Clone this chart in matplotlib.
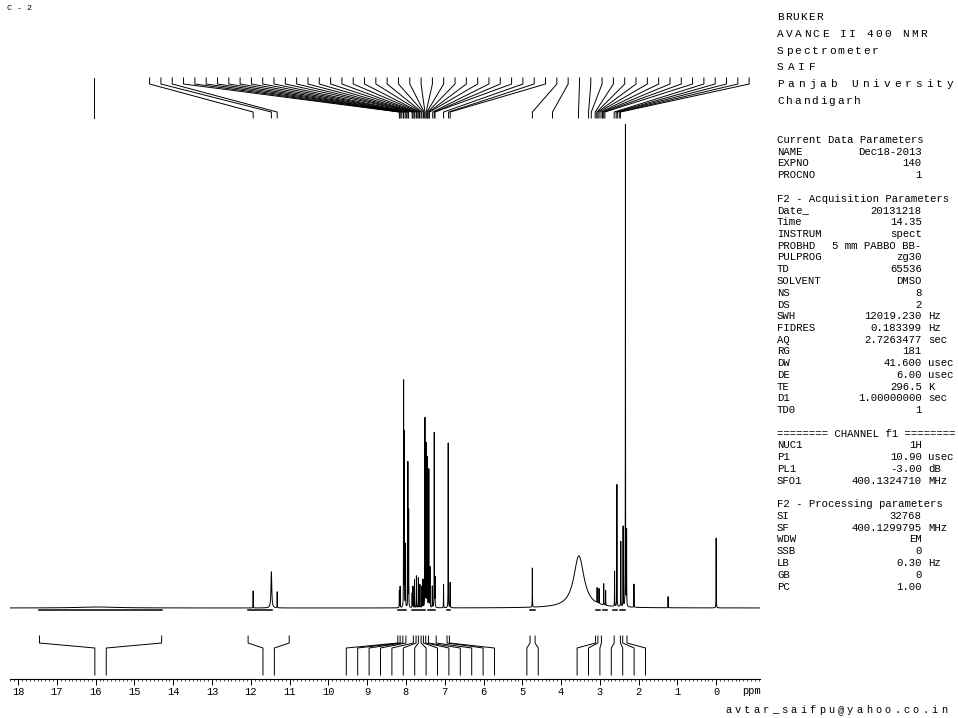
import numpy as np
import matplotlib.pyplot as plt
from matplotlib.ticker import MultipleLocator

plt.rcParams['font.family'] = ['Liberation Mono', 'DejaVu Sans Mono']
plt.rcParams['path.simplify'] = False

W, H = 958, 718

# 1H lines: position (ppm), height (DMSO line = 1), width (FWHM, ppm)
line_ppm = [15.95, 11.94, 11.47, 11.32,
            8.17, 8.15, 8.06, 8.04, 8.01, 7.95, 7.93, 7.84, 7.82, 7.78, 7.73,
            7.68, 7.64, 7.59, 7.56, 7.51, 7.48, 7.45, 7.41, 7.38, 7.32, 7.27,
            7.25, 7.03, 6.91, 6.86,
            4.74, 3.54, 3.07, 3.02, 2.90, 2.85, 2.62, 2.56, 2.46, 2.40, 2.34,
            2.31, 2.12, 1.24, 0.00]
line_height = [0.002, 0.035, 0.075, 0.033,
               0.035, 0.044, 0.467, 0.36, 0.13, 0.30, 0.20, 0.03, 0.044, 0.058, 0.066,
               0.062, 0.048, 0.044, 0.058, 0.392, 0.338, 0.31, 0.286, 0.083, 0.044, 0.363,
               0.06, 0.048, 0.342, 0.052,
               0.081, 0.108, 0.031, 0.031, 0.044, 0.031, 0.073, 0.253, 0.135, 0.166, 1.0,
               0.156, 0.048, 0.023, 0.145]
line_width = [1.2, 0.005, 0.025, 0.005] + [0.005] * 26 + \
             [0.005, 0.32] + [0.005] * 13

# peak picking list (labels spread evenly along the top)
picked_ppm = [11.94, 11.47, 11.32,
              8.17, 8.15, 8.12, 8.07, 8.06, 8.02, 7.99, 7.95, 7.93, 7.84, 7.82,
              7.79, 7.77, 7.73, 7.71, 7.67, 7.65, 7.61, 7.59, 7.55, 7.53, 7.51,
              7.48, 7.46, 7.44, 7.41, 7.39, 7.31, 7.27, 7.25, 7.03, 6.90, 6.86,
              4.74, 4.22, 3.55,
              3.29, 3.22, 3.12, 3.08, 3.05, 3.02, 2.97, 2.93, 2.90, 2.87,
              2.63, 2.58, 2.55, 2.50, 2.47]
lone_pick = 16.04

# integral region limits, grouped by label cluster
integral_groups = [
    [17.45, 14.30],
    [12.07, 11.01],
    [8.21, 8.15, 8.08, 8.00, 7.81, 7.74, 7.68, 7.61, 7.55, 7.49, 7.42, 7.22, 6.94, 6.88],
    [4.80, 4.67],
    [3.11, 3.05, 2.96, 2.63, 2.47, 2.41, 2.30],
]
integral_regions = [(17.45, 14.30), (12.07, 11.45), (8.21, 8.00), (7.85, 7.50),
                    (7.43, 7.25), (6.95, 6.86), (4.80, 4.67), (3.09, 2.99),
                    (2.92, 2.82), (2.65, 2.56), (2.49, 2.35)]

# title block: text, x of last letter (px)
title_lines = [("BRUKER", 816), ("AVANCE II 400 NMR", 920), ("Spectrometer", 872),
               ("SAIF", 809), ("Panjab University", 947), ("Chandigarh", 854)]
email = "avtar_saifpu@yahoo.co.in"

params = [
    ("Current Data Parameters",),
    ("NAME", "Dec18-2013", ""), ("EXPNO", "140", ""), ("PROCNO", "1", ""),
    None,
    ("F2 - Acquisition Parameters",),
    ("Date_", "20131218", ""), ("Time", "14.35", ""), ("INSTRUM", "spect", ""),
    ("PROBHD", "5 mm PABBO BB-", ""), ("PULPROG", "zg30", ""), ("TD", "65536", ""),
    ("SOLVENT", "DMSO", ""), ("NS", "8", ""), ("DS", "2", ""),
    ("SWH", "12019.230", "Hz"), ("FIDRES", "0.183399", "Hz"),
    ("AQ", "2.7263477", "sec"), ("RG", "181", ""), ("DW", "41.600", "usec"),
    ("DE", "6.00", "usec"), ("TE", "296.5", "K"), ("D1", "1.00000000", "sec"),
    ("TD0", "1", ""),
    None,
    ("======== CHANNEL f1 ========",),
    ("NUC1", "1H", ""), ("P1", "10.90", "usec"), ("PL1", "-3.00", "dB"),
    ("SFO1", "400.1324710", "MHz"),
    None,
    ("F2 - Processing parameters",),
    ("SI", "32768", ""), ("SF", "400.1299795", "MHz"), ("WDW", "EM", ""),
    ("SSB", "0", ""), ("LB", "0.30", "Hz"), ("GB", "0", ""), ("PC", "1.00", ""),
]

# build spectrum from lorentzian lines
ppm = np.linspace(18.21, -1.13, 38681)
spec = np.zeros_like(ppm)
for c, h, w in zip(line_ppm, line_height, line_width):
    g = w / 2
    spec += h * g ** 2 / ((ppm - c) ** 2 + g ** 2)

fig = plt.figure(figsize=(W / 100, H / 100), dpi=100)
ax = fig.add_axes([10 / W, (H - 679) / H, 750 / W, 609 / H])
ax.plot(ppm, spec, color='black', lw=0.7)
ax.set_xlim(18.21, -1.13)
ax.set_ylim(-0.1473, 1.116)

for s in ['top', 'left', 'right']:
    ax.spines[s].set_visible(False)
ax.spines['bottom'].set_linewidth(0.8)
ax.set_yticks([])
ax.set_xticks(range(18, -1, -1))
ax.set_xticklabels([str(i) for i in range(18, -1, -1)])
ax.xaxis.set_minor_locator(MultipleLocator(0.1))
ax.tick_params(axis='x', which='major', length=4, width=0.7, labelsize=7.5, pad=2)
ax.tick_params(axis='x', which='minor', length=1.5, width=0.5)

trans = ax.get_xaxis_transform()
ax.text(-0.9, -0.0197, 'ppm', transform=trans, ha='center', va='center', fontsize=7.5)

# peak labels at top
tick_x = np.linspace(14.61, -0.85, len(picked_ppm))
for tx, p in zip(tick_x, picked_ppm):
    ax.plot([tx, tx, p, p], [0.9869, 0.977, 0.931, 0.9212], transform=trans,
            color='black', lw=0.7, clip_on=False)
ax.plot([lone_pick, lone_pick], [0.9869, 0.9212], transform=trans,
        color='black', lw=0.7, clip_on=False)

# integral labels below the spectrum
step = 0.294
for grp in integral_groups:
    n = len(grp)
    c = np.mean(grp)
    lab = c + ((n - 1) / 2 - np.arange(n)) * step
    for a, l in zip(grp, lab):
        ax.plot([a, a, l, l], [0.0706, 0.0591, 0.0509, 0.0066], transform=trans,
                color='black', lw=0.7)

for a, b in integral_regions:
    ax.plot([a, b], [-0.004, -0.004], color='black', lw=1.1)


def spaced(x0, x1, y, s, size=8):
    xs = np.linspace(x0, x1, len(s))
    for x, ch in zip(xs, s):
        fig.text(x / W, 1 - y / H, ch, fontsize=size, va='center', ha='left')


for i, (s, x1) in enumerate(title_lines):
    spaced(777, x1, 17 + 16.8 * i, s)
spaced(725, 941, 710, email, size=7.5)

fig.text(7 / W, 1 - 8 / H, "C - 2", fontsize=6, va='center')

fs = 7.7
y = 140
for row in params:
    if row is not None:
        if len(row) == 1:
            fig.text(777 / W, 1 - y / H, row[0], fontsize=fs, va='center')
        else:
            name, val, unit = row
            fig.text(777 / W, 1 - y / H, name, fontsize=fs, va='center')
            fig.text(921.7 / W, 1 - y / H, val, fontsize=fs, va='center', ha='right')
            if unit:
                fig.text(928 / W, 1 - y / H, unit, fontsize=fs, va='center')
    y += 11.75

fig.savefig('out.png', dpi=100)
